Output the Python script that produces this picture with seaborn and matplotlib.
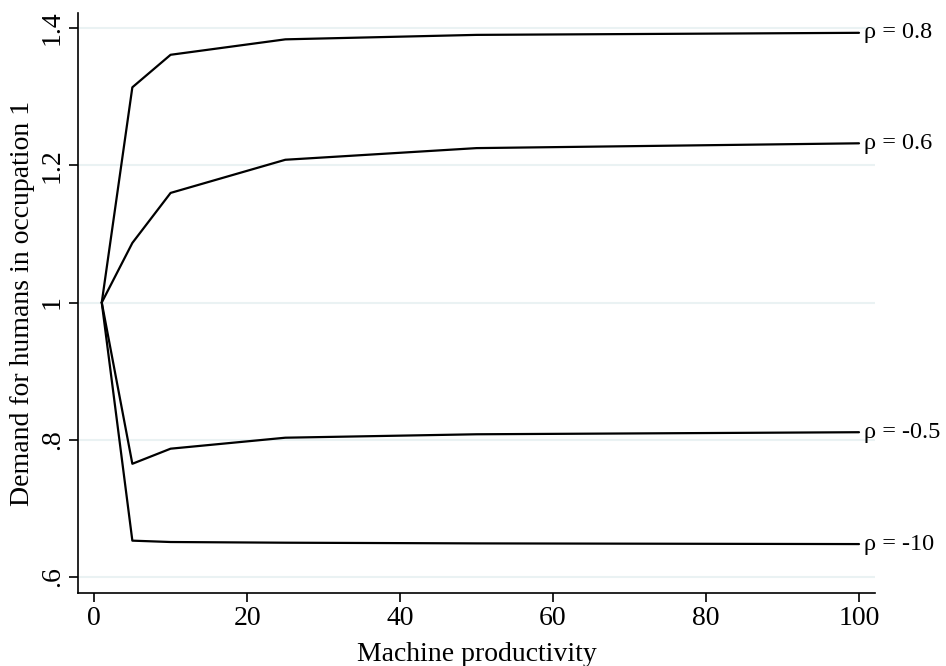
import numpy as np
import pandas as pd
import matplotlib
matplotlib.use("Agg")
import matplotlib.pyplot as plt
import seaborn as sns

x_vals = [1, 5, 10, 25, 50, 100]
rho_08 = [1.0, 1.3136, 1.361, 1.3835, 1.390, 1.393]
rho_06 = [1.0, 1.0868, 1.1597, 1.208, 1.225, 1.232]
rho_m05 = [1.0, 0.765, 0.787, 0.803, 0.808, 0.811]
rho_m10 = [1.0, 0.653, 0.651, 0.650, 0.649, 0.648]
series_labels = ["ρ = 0.8", "ρ = 0.6", "ρ = -0.5", "ρ = -10"]
yticks = [0.6, 0.8, 1.0, 1.2, 1.4]
ytick_labels = [".6", ".8", "1", "1.2", "1.4"]
xticks = [0, 20, 40, 60, 80, 100]

rows = []
for lab, vals in zip(series_labels, [rho_08, rho_06, rho_m05, rho_m10]):
    for xv, yv in zip(x_vals, vals):
        rows.append({"x": xv, "y": yv, "series": lab})
df = pd.DataFrame(rows)

sns.set_style("white")
plt.rcParams["font.family"] = ["Liberation Serif", "DejaVu Serif"]
plt.rcParams["text.color"] = "black"
plt.rcParams["axes.labelcolor"] = "black"
plt.rcParams["xtick.color"] = "black"
plt.rcParams["ytick.color"] = "black"

fig = plt.figure(figsize=(9.46, 6.66), dpi=100)
ax = fig.add_axes([0.0825, 0.1096, 0.925 - 0.0825, 0.9805 - 0.1096])

for yt in yticks:
    ax.axhline(yt, color="#eaf2f3", lw=1.5, zorder=0)

sns.lineplot(data=df, x="x", y="y", hue="series", palette=["black"] * 4,
             legend=False, ax=ax, linewidth=1.6, estimator=None, sort=False)

for lab, vals in zip(series_labels, [rho_08, rho_06, rho_m05, rho_m10]):
    ax.text(x_vals[-1] + 0.7, vals[-1], lab, ha="left", va="center",
            fontsize=17.5, clip_on=False)

ax.set_xlim(-2.1, 102.1)
ax.set_ylim(0.5767, 1.4219)
ax.set_xticks(xticks)
ax.set_yticks(yticks)
ax.set_yticklabels(ytick_labels, rotation=90, va="center")
ax.tick_params(axis="both", direction="out", length=6.5, width=1.2, color="black",
               labelsize=20, pad=3, left=True, bottom=True)
for s in ["top", "right"]:
    ax.spines[s].set_visible(False)
for s in ["left", "bottom"]:
    ax.spines[s].set_color("black")
    ax.spines[s].set_linewidth(1.2)

ax.set_xlabel("Machine productivity", fontsize=20)
ax.set_ylabel("Demand for humans in occupation 1", fontsize=20)
ax.xaxis.set_label_coords(0.5, -0.085)
ax.yaxis.set_label_coords(-0.054, 0.5)

fig.savefig("out.png", dpi=100)
